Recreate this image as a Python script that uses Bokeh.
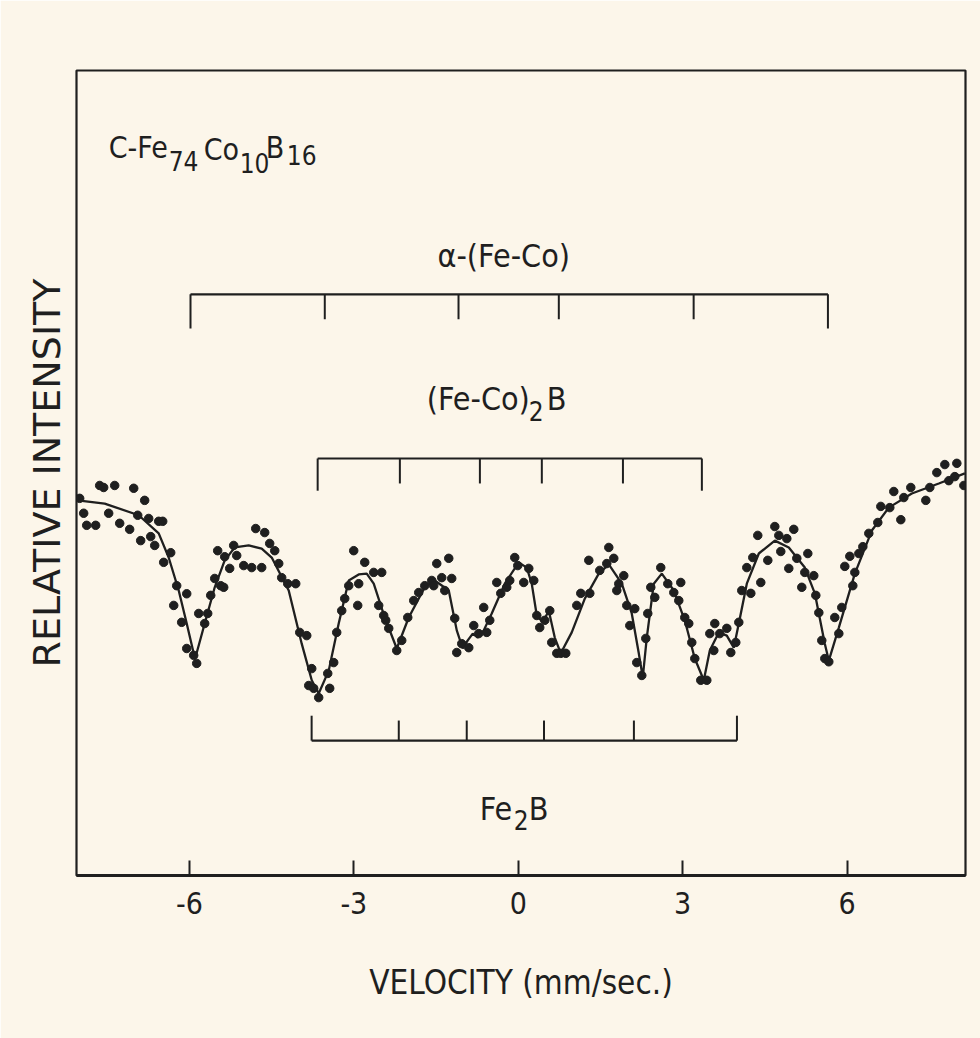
from bokeh.plotting import figure
from bokeh.models import Range1d, FixedTicker
from bokeh.core.properties import value
from bokeh.embed import file_html
from bokeh.resources import INLINE

# Measured Mossbauer spectrum of crystallised Fe74Co10B16 (velocity in mm/s, normalised transmission)
velocity = [
    -8.002, -7.929, -7.874, -7.710, -7.637, -7.564, -7.363, -7.473, -7.272, -7.090,
    -7.016, -6.943, -6.889, -6.816, -6.743, -6.706, -6.633, -6.560, -6.487, -6.469,
    -6.341, -6.232, -6.286, -6.049, -6.141, -6.049, -5.922, -5.867, -5.830, -5.721,
    -5.666, -5.611, -5.538, -5.429, -5.484, -5.356, -5.374, -5.265, -5.192, -5.137,
    -5.009, -4.863, -4.681, -4.790, -4.626, -4.535, -4.443, -4.370, -4.316, -4.206,
    -4.060, -3.987, -3.859, -3.768, -3.823, -3.732, -3.641, -3.476, -3.440, -3.367,
    -3.312, -3.221, -3.166, -3.093, -3.002, -2.911, -2.929, -2.801, -2.637, -2.491,
    -2.546, -2.455, -2.418, -2.363, -2.217, -2.126, -2.016, -1.907, -1.816, -1.706,
    -1.578, -1.487, -1.542, -1.396, -1.341, -1.268, -1.214, -1.159, -1.122, -1.031,
    -0.903, -0.812, -0.721, -0.630, -0.575, -0.520, -0.392, -0.319, -0.210, -0.155,
    -0.064, -0.009, 0.100, 0.192, 0.283, 0.338, 0.392, 0.484, 0.575, 0.611,
    0.703, 0.776, 0.867, 1.068, 1.141, 1.287, 1.305, 1.487, 1.615, 1.652,
    1.743, 1.834, 1.925, 1.798, 1.980, 2.126, 2.035, 2.162, 2.254, 2.327,
    2.363, 2.418, 2.491, 2.600, 2.728, 2.838, 2.965, 2.929, 3.038, 3.111,
    3.166, 3.221, 3.330, 3.440, 3.495, 3.586, 3.568, 3.677, 3.805, 3.878,
    3.969, 4.024, 4.078, 4.170, 4.243, 4.279, 4.370, 4.425, 4.553, 4.681,
    4.754, 4.790, 4.900, 4.936, 5.027, 5.082, 5.173, 5.228, 5.283, 5.392,
    5.429, 5.484, 5.538, 5.593, 5.666, 5.775, 5.849, 5.903, 5.958, 6.049,
    6.104, 6.141, 6.214, 6.287, 6.396, 6.560, 6.615, 6.779, 6.852, 6.980,
    7.035, 7.162, 7.436, 7.509, 7.637, 7.783, 7.856, 7.965, 8.002, 8.130,
]
transmission = [
    0.9937, 0.9900, 0.9870, 0.9870, 0.9969, 0.9964, 0.9969, 0.9900, 0.9875, 0.9860,
    0.9962, 0.9895, 0.9832, 0.9932, 0.9887, 0.9842, 0.9820, 0.9880, 0.9880, 0.9778,
    0.9802, 0.9720, 0.9671, 0.9700, 0.9629, 0.9564, 0.9547, 0.9527, 0.9651, 0.9626,
    0.9651, 0.9696, 0.9738, 0.9720, 0.9807, 0.9792, 0.9716, 0.9763, 0.9820, 0.9795,
    0.9770, 0.9765, 0.9765, 0.9862, 0.9852, 0.9825, 0.9807, 0.9775, 0.9740, 0.9725,
    0.9725, 0.9604, 0.9596, 0.9514, 0.9472, 0.9465, 0.9442, 0.9502, 0.9465, 0.9529,
    0.9604, 0.9658, 0.9688, 0.9720, 0.9807, 0.9725, 0.9671, 0.9778, 0.9753, 0.9753,
    0.9671, 0.9646, 0.9634, 0.9614, 0.9559, 0.9584, 0.9641, 0.9683, 0.9703, 0.9720,
    0.9733, 0.9775, 0.9720, 0.9740, 0.9708, 0.9788, 0.9738, 0.9639, 0.9554, 0.9576,
    0.9566, 0.9621, 0.9601, 0.9666, 0.9604, 0.9634, 0.9728, 0.9701, 0.9716, 0.9733,
    0.9790, 0.9770, 0.9728, 0.9763, 0.9733, 0.9646, 0.9616, 0.9634, 0.9658, 0.9579,
    0.9552, 0.9552, 0.9552, 0.9671, 0.9701, 0.9783, 0.9701, 0.9758, 0.9775, 0.9815,
    0.9788, 0.9725, 0.9745, 0.9708, 0.9671, 0.9663, 0.9621, 0.9529, 0.9497, 0.9589,
    0.9651, 0.9716, 0.9691, 0.9765, 0.9725, 0.9703, 0.9728, 0.9683, 0.9641, 0.9626,
    0.9579, 0.9539, 0.9485, 0.9485, 0.9601, 0.9626, 0.9559, 0.9601, 0.9614, 0.9554,
    0.9579, 0.9629, 0.9708, 0.9765, 0.9701, 0.9790, 0.9845, 0.9728, 0.9783, 0.9867,
    0.9845, 0.9805, 0.9837, 0.9763, 0.9860, 0.9788, 0.9716, 0.9753, 0.9800, 0.9745,
    0.9696, 0.9653, 0.9584, 0.9539, 0.9531, 0.9641, 0.9601, 0.9666, 0.9768, 0.9793,
    0.9720, 0.9753, 0.9800, 0.9817, 0.9850, 0.9877, 0.9917, 0.9914, 0.9954, 0.9884,
    0.9939, 0.9964, 0.9932, 0.9964, 1.0001, 1.0021, 0.9981, 0.9991, 1.0024, 0.9969,
]

# Least-squares fitted spectrum
fit_velocity = [
    -8.038, -7.546, -6.925, -6.560, -6.378, -6.195, -6.049, -5.922, -5.885, -5.721,
    -5.538, -5.356, -5.173, -4.918, -4.681, -4.498, -4.188, -3.951, -3.768, -3.641,
    -3.458, -3.276, -3.093, -2.911, -2.765, -2.637, -2.436, -2.217, -1.998, -1.706,
    -1.524, -1.268, -1.122, -1.013, -0.922, -0.830, -0.739, -0.630, -0.484, -0.246,
    0.009, 0.155, 0.246, 0.338, 0.447, 0.557, 0.666, 0.776, 0.976, 1.214,
    1.469, 1.652, 1.889, 2.071, 2.199, 2.272, 2.345, 2.473, 2.619, 2.838,
    3.038, 3.221, 3.385, 3.495, 3.659, 3.805, 3.932, 4.024, 4.170, 4.389,
    4.681, 4.936, 5.228, 5.411, 5.593, 5.666, 5.849, 6.141, 6.451, 6.761,
    7.181, 7.673, 8.148,
]
fit_transmission = [
    0.9932, 0.9924, 0.9895, 0.9850, 0.9790, 0.9708, 0.9626, 0.9552, 0.9544, 0.9626,
    0.9716, 0.9783, 0.9815, 0.9820, 0.9812, 0.9790, 0.9708, 0.9576, 0.9485, 0.9452,
    0.9509, 0.9626, 0.9733, 0.9748, 0.9750, 0.9725, 0.9641, 0.9564, 0.9641, 0.9716,
    0.9733, 0.9708, 0.9609, 0.9564, 0.9584, 0.9601, 0.9591, 0.9609, 0.9651, 0.9725,
    0.9778, 0.9765, 0.9725, 0.9646, 0.9629, 0.9658, 0.9591, 0.9552, 0.9604, 0.9688,
    0.9750, 0.9773, 0.9725, 0.9651, 0.9552, 0.9492, 0.9591, 0.9725, 0.9750, 0.9708,
    0.9634, 0.9539, 0.9485, 0.9559, 0.9604, 0.9596, 0.9566, 0.9626, 0.9725, 0.9800,
    0.9832, 0.9815, 0.9765, 0.9701, 0.9576, 0.9534, 0.9616, 0.9750, 0.9857, 0.9914,
    0.9949, 0.9974, 0.9999,
]

# Line positions of the three sextets (mm/s)
alpha_fe_co_lines = [-5.98, -3.53, -1.09, 0.74, 3.20, 5.65]
fe_co_2b_lines = [-3.66, -2.16, -0.70, 0.43, 1.91, 3.35]
fe2b_lines = [-3.77, -2.18, -0.94, 0.47, 2.11, 3.99]

tick_values = [-6, -3, 0, 3, 6]
tick_labels = ["-6", "-3", "0", "3", "6"]

PAPER = "#fcf6ea"
INK = "#1f1f1f"
LETTERING = "DejaVu Sans Condensed"

p = figure(
    width=980, height=1038, output_backend="svg", toolbar_location=None,
    x_range=Range1d(-8.06, 8.16), y_range=Range1d(0.90, 1.10),
    min_border_left=76, min_border_right=15, min_border_top=70, min_border_bottom=163,
)
p.background_fill_color = PAPER
p.border_fill_color = PAPER
p.grid.visible = False
p.outline_line_color = INK
p.outline_line_width = 2.2

# x axis: ticks drawn inwards only
xa = p.xaxis[0]
xa.ticker = FixedTicker(ticks=tick_values)
xa.major_label_overrides = {v: s for v, s in zip(tick_values, tick_labels)}
xa.major_tick_in = 15
xa.major_tick_out = 0
xa.minor_tick_line_color = None
xa.major_tick_line_width = 2
xa.major_tick_line_color = INK
xa.axis_line_width = 3
xa.axis_line_color = INK
xa.major_label_text_font = LETTERING
xa.major_label_text_font_size = "30px"
xa.major_label_text_color = INK
xa.major_label_standoff = 16
xa.axis_label = "VELOCITY (mm/sec.)"
xa.axis_label_text_font = LETTERING
xa.axis_label_text_font_size = "33px"
xa.axis_label_text_font_style = "normal"
xa.axis_label_text_color = INK
xa.axis_label_standoff = 46

# y axis: label only
ya = p.yaxis[0]
ya.ticker = FixedTicker(ticks=[])
ya.axis_line_color = None
ya.major_tick_line_color = None
ya.minor_tick_line_color = None
ya.axis_label = "RELATIVE INTENSITY"
ya.axis_label_text_font = "DejaVu Sans"
ya.axis_label_text_font_size = "38px"
ya.axis_label_text_font_style = "normal"
ya.axis_label_text_color = INK
ya.axis_label_standoff = 8

# spectrum
p.line(fit_velocity, fit_transmission, line_color=INK, line_width=2.3)
p.scatter(velocity, transmission, size=8.5, color=INK, line_color=INK)


def bracket(lines, y_bar, tick_len, end_len):
    """Stick diagram: a bar over the six line positions with a tick at each."""
    p.segment(x0=[lines[0]], y0=[y_bar], x1=[lines[-1]], y1=[y_bar], line_color=INK, line_width=2.2)
    y_end = [y_bar + (end_len if i in (0, len(lines) - 1) else tick_len) for i in range(len(lines))]
    p.segment(x0=lines, y0=[y_bar] * len(lines), x1=lines, y1=y_end, line_color=INK, line_width=2)


bracket(alpha_fe_co_lines, 1.0444, -0.0062, -0.0085)
bracket(fe_co_2b_lines, 1.0036, -0.0062, -0.0080)
bracket(fe2b_lines, 0.9335, 0.0050, 0.0062)


def label(x, y, text, size, align="left"):
    p.text(x=[x], y=[y], text=[text], text_font=value(LETTERING), text_font_size=size,
           text_color=INK, text_align=align, text_baseline="alphabetic")


# sample name with subscripts
label(-7.473, 1.0809, "C-Fe", "30px")
label(-6.378, 1.0776, "74", "26px")
label(-5.739, 1.0804, "Co", "30px")
label(-5.082, 1.0771, "10", "26px")
label(-4.608, 1.0809, "B", "30px")
label(-4.224, 1.0791, "16", "26px")

# phase names
label(-0.265, 1.0540, "α-(Fe-Co)", "32px", align="center")
label(-1.670, 1.0185, "(Fe-Co)", "32px")
label(0.192, 1.0155, "2", "26px")
label(0.520, 1.0185, "B", "32px")
label(-0.703, 0.9166, "Fe", "32px")
label(-0.082, 0.9137, "2", "26px")
label(0.192, 0.9166, "B", "32px")

open("out.html", "w").write(file_html(p, INLINE))
